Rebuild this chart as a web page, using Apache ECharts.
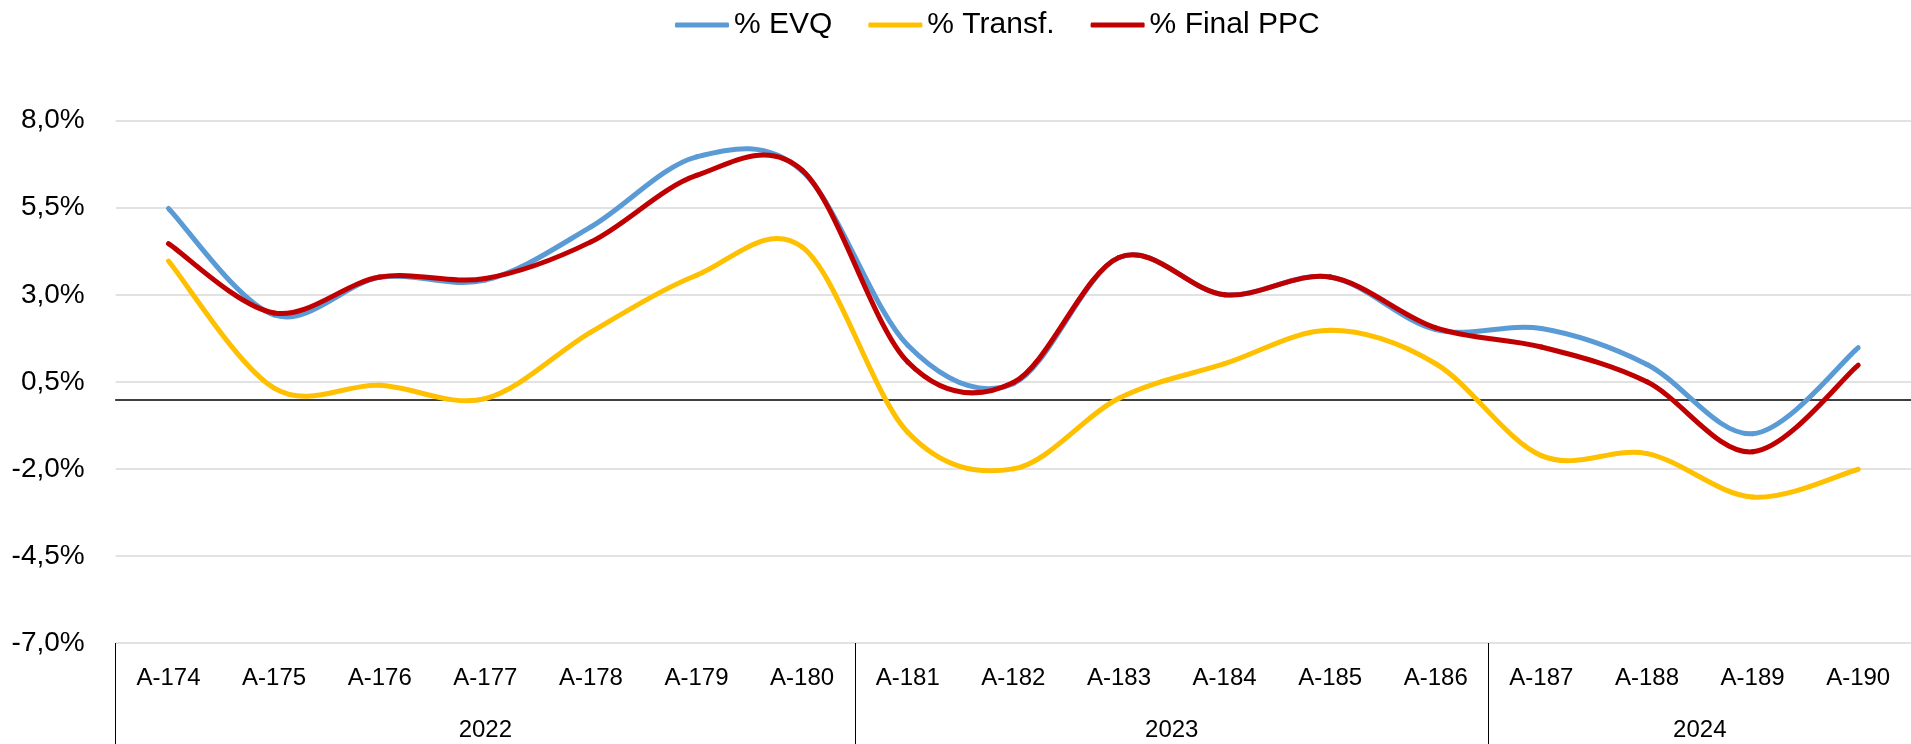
<!DOCTYPE html>
<html>
<head>
<meta charset="utf-8">
<script src="https://cdn.jsdelivr.net/npm/echarts@6/dist/echarts.min.js"></script>
<style>
  html, body { margin: 0; padding: 0; background: #fff; }
  #chart { width: 1911px; height: 744px; }
</style>
</head>
<body>
<div id="chart"></div>
<script>
const categories = ['A-174','A-175','A-176','A-177','A-178','A-179','A-180','A-181','A-182','A-183','A-184','A-185','A-186','A-187','A-188','A-189','A-190'];
const years = ['2022', '2023', '2024'];
const yearSpans = [7, 6, 4];
const seriesNames = ['% EVQ', '% Transf.', '% Final PPC'];
const evq      = [5.48, 2.42, 3.50, 3.42, 4.95, 6.96, 6.55, 1.55, 0.45, 4.07, 3.00, 3.51, 2.00, 2.03, 1.00, -0.99, 1.48];
const transf   = [3.97, 0.32, 0.40, 0.02, 1.93, 3.56, 4.37, -0.95, -2.00, 0.03, 1.02, 1.98, 1.02, -1.62, -1.56, -2.81, -2.01];
const finalPpc = [4.47, 2.48, 3.51, 3.47, 4.52, 6.43, 6.58, 1.07, 0.48, 4.07, 3.00, 3.51, 2.05, 1.50, 0.50, -1.51, 0.98];
const yMin = -7, yMax = 8, yStep = 2.5;

// Year axis built on half-category steps (boundaryGap false)
const halfCount = categories.length * 2 + 1;
const yearAxisData = new Array(halfCount).fill('');
const separators = new Set([0]);
const yearLabelIdx = new Set();
let start = 0;
years.forEach((y, k) => {
  const mid = start * 2 + yearSpans[k];
  yearAxisData[mid] = y;
  yearLabelIdx.add(mid);
  start += yearSpans[k];
  separators.add(start * 2);
});

const FONT = 'Liberation Sans';
const chart = echarts.init(document.getElementById('chart'), null, { renderer: 'canvas' });
const colors = ['#5B9BD5', '#FFC000', '#C00000'];
const values = [evq, transf, finalPpc];
const LINE_W = 5;

// Excel-like smoothed line: Catmull-Rom style cubic segments through the data points,
// positioned with the chart's own axes (api.coord).
function makeRenderItem(vals, color) {
  return function (params, api) {
    const i = params.dataIndex;
    const n = vals.length;
    if (i >= n - 1) return null;
    const p = (k) => {
      const kk = Math.max(0, Math.min(n - 1, k));
      return api.coord([kk, vals[kk]]);
    };
    const p0 = p(i - 1), p1 = p(i), p2 = p(i + 1), p3 = p(i + 2);
    const t = 1 / 6;
    return {
      type: 'bezierCurve',
      shape: {
        x1: p1[0], y1: p1[1],
        x2: p2[0], y2: p2[1],
        cpx1: p1[0] + (p2[0] - p0[0]) * t,
        cpy1: p1[1] + (p2[1] - p0[1]) * t,
        cpx2: p2[0] - (p3[0] - p1[0]) * t,
        cpy2: p2[1] - (p3[1] - p1[1]) * t
      },
      style: { stroke: color, lineWidth: LINE_W, fill: null, lineCap: 'round', lineJoin: 'round' },
      silent: true
    };
  };
}

chart.setOption({
  animation: false,
  backgroundColor: '#fff',
  color: colors,
  textStyle: { fontFamily: FONT },
  legend: {
    top: 5,
    left: 670,
    icon: 'roundRect',
    itemWidth: 54,
    itemHeight: 5,
    itemGap: 36,
    textStyle: { fontFamily: FONT, fontSize: 30, color: '#000' },
    data: seriesNames
  },
  grid: { left: 115.7, right: -15, top: 120.7, bottom: 101, containLabel: false },
  xAxis: [
    {
      type: 'category',
      data: categories,
      position: 'bottom',
      boundaryGap: true,
      axisLine: { show: false, onZero: false },
      axisTick: { show: false },
      axisLabel: { fontFamily: FONT, fontSize: 24, color: '#000', margin: 23, interval: 0 },
      splitLine: { show: false }
    },
    {
      type: 'category',
      data: yearAxisData,
      position: 'bottom',
      boundaryGap: false,
      axisLine: { show: false, onZero: false },
      axisTick: {
        show: true,
        length: 110,
        interval: (idx) => separators.has(idx),
        lineStyle: { color: '#000', width: 1 }
      },
      axisLabel: {
        fontFamily: FONT, fontSize: 24, color: '#000', margin: 75,
        interval: (idx) => yearLabelIdx.has(idx)
      },
      splitLine: { show: false }
    },
    {
      type: 'category',
      data: categories,
      position: 'bottom',
      axisLine: { show: true, onZero: true, lineStyle: { color: '#000', width: 1.5 } },
      axisTick: { show: false },
      axisLabel: { show: false },
      splitLine: { show: false }
    }
  ],
  yAxis: {
    type: 'value',
    min: yMin,
    max: yMax,
    interval: yStep,
    axisLine: { show: false },
    axisTick: { show: false },
    axisLabel: {
      fontFamily: FONT, fontSize: 28, color: '#000', margin: 31,
      formatter: (v) => v.toFixed(1).replace('.', ',') + '%'
    },
    splitLine: { lineStyle: { color: '#D9D9D9', width: 1.5 } }
  },
  series: seriesNames.map((name, i) => ({
    name,
    type: 'custom',
    xAxisIndex: 0,
    yAxisIndex: 0,
    data: values[i].map((v, k) => [k, v]),
    encode: { x: 0, y: 1 },
    itemStyle: { color: colors[i] },
    renderItem: makeRenderItem(values[i], colors[i])
  }))
});
</script>
</body>
</html>
